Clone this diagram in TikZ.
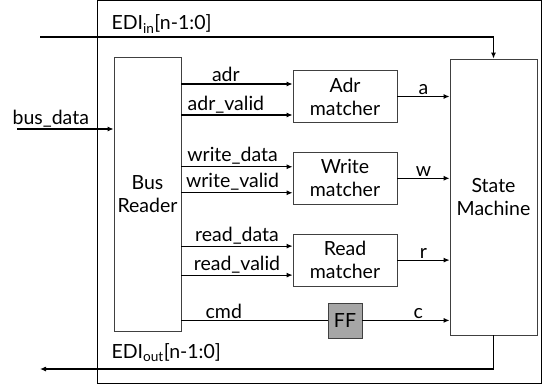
\documentclass[tikz,border=0pt]{standalone}
\usepackage{fontspec}
\setmainfont{Lato}
\usetikzlibrary{arrows.meta,positioning,calc}

\tikzset{
  block/.style={draw=black!75, line width=0.8pt, align=center, inner sep=0pt},
  matcher/.style={block, minimum width=104pt, minimum height=52pt},
  sig/.style={line width=1.1pt, -{Latex[length=6pt,width=5pt]}},
  wire/.style={line width=1.1pt},
  lbl/.style={above, inner sep=1.5pt}
}

\begin{document}
\begin{tikzpicture}[x=1pt, y=-1pt, font=\fontsize{19.5}{23}\selectfont]
        \useasboundingbox (0,0) rectangle (545,390);
        \node[draw, line width=1pt, minimum width=444pt, minimum height=382pt] (chip) at (319,192) {};

        \node[block, minimum width=67pt, minimum height=274pt] (reader) at (147.5,194) {Bus\\Reader};
        \node[block, minimum width=87pt, minimum height=276pt] (fsm) at (493.5,197) {State\\Machine};
        \node[matcher] (adrm) at (345,96.5) {Adr\\matcher};
        \node[matcher] (writem) [below=29pt of adrm] {Write\\matcher};
        \node[matcher] (readm) [below=29pt of writem] {Read\\matcher};
        \node[block, fill=black!35, minimum width=34pt, minimum height=35pt] (ff) [below=16pt of readm] {FF};

        % inputs of the matchers
        \coordinate (adr) at ($(adrm.west)+(0,-12.5)$);
        \coordinate (adrv) at ($(adrm.west)+(0,18.5)$);
        \coordinate (wdata) at ($(writem.west)+(0,-11.5)$);
        \coordinate (wvalid) at ($(writem.west)+(0,14.5)$);
        \coordinate (rdata) at ($(readm.west)+(0,-14)$);
        \coordinate (rvalid) at ($(readm.west)+(0,15)$);

        \draw[sig] (reader.east |- adr) -- node[lbl, pos=0.4] {adr} (adr);
        \draw[sig] (reader.east |- adrv) -- node[lbl, pos=0.4] {adr\_valid} (adrv);
        \draw[sig] (reader.east |- wdata) -- node[lbl, pos=0.46] {write\_data} (wdata);
        \draw[sig] (reader.east |- wvalid) -- node[lbl, pos=0.46] {write\_valid} (wvalid);
        \draw[sig] (reader.east |- rdata) -- node[lbl, pos=0.5] {read\_data} (rdata);
        \draw[sig] (reader.east |- rvalid) -- node[lbl, pos=0.5] {read\_valid} (rvalid);
        \draw[wire] (reader.east |- ff.west) -- node[lbl, pos=0.29] {cmd} (ff.west);

        % outputs into the state machine
        \draw[sig] (adrm.east) -- node[lbl] {a} (adrm.east -| fsm.west);
        \draw[sig] (writem.east) -- node[lbl] {w} (writem.east -| fsm.west);
        \draw[sig] (readm.east) -- node[lbl] {r} (readm.east -| fsm.west);
        \draw[sig] (ff.east) -- node[lbl, pos=0.64] {c} (ff.east -| fsm.west);

        % external ports
        \coordinate (busin) at (17,129);
        \coordinate (ediin) at (40,37);
        \coordinate (ediout) at (40,369);
        \draw[sig] (busin) -- node[lbl, pos=0.35] {bus\_data} (busin -| reader.west);
        \draw[sig] (ediin) -| (fsm.north);
        \draw[sig] (fsm.south) |- (ediout);
        \node[anchor=west] (ediinlbl) at (108,24) {EDI\textsubscript{in}[n-1:0]};
        \node[anchor=west] (edioutlbl) at (108,353) {EDI\textsubscript{out}[n-1:0]};
\end{tikzpicture}
\end{document}
